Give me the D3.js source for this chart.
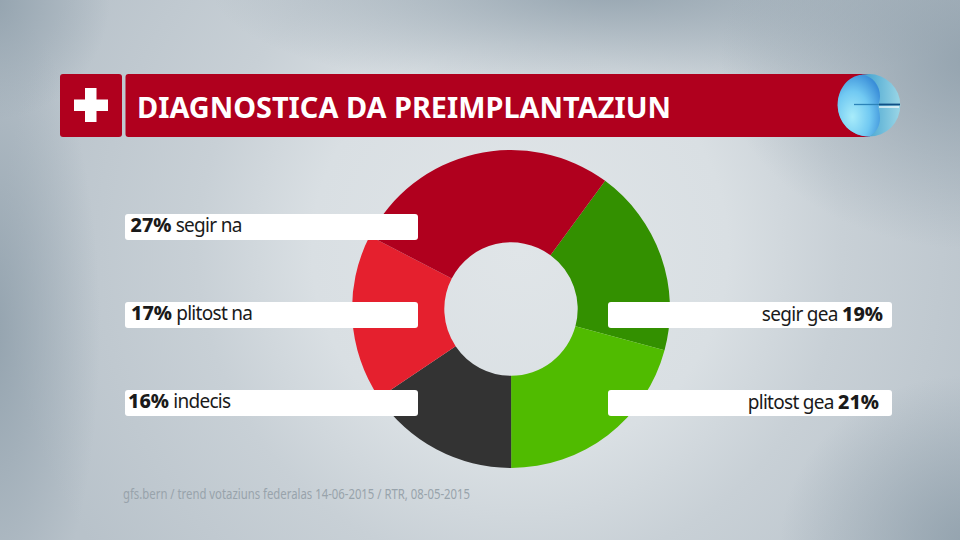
<!DOCTYPE html>
<html>
  <head>
    <meta charset="utf-8">
    <script src="https://cdnjs.cloudflare.com/ajax/libs/d3/7.8.5/d3.min.js"></script>
    <style>
      html, body { margin: 0; padding: 0; width: 960px; height: 540px; overflow: hidden; }
      text { font-family: "Noto Sans", "Open Sans", sans-serif; }
    </style>
  </head>
  <body>
    <svg id="chart" width="960" height="540"></svg>
    <script>
      // clockwise from the top right slice
      const categories = ["segir gea", "plitost gea", "indecis", "plitost na", "segir na"];
      const percents = [19, 21, 16, 17, 27];
      // slice sizes as measured on the picture, they differ a bit from the printed numbers
      const shares = [19.1, 20.8, 15.6, 17, 27.5];
      const colors = ["#339000", "#50bb00", "#333333", "#e5202e", "#b0001e"];
      const title = "DIAGNOSTICA DA PREIMPLANTAZIUN";
      const source = "gfs.bern / trend votaziuns federalas 14-06-2015 / RTR, 08-05-2015";

      // label boxes, order matches categories
      const boxX = [608, 608, 125, 125, 125];
      const boxY = [302, 390, 390, 302, 214];
      const textX = [883, 879, 128, 131, 130.5];
      const boxW = [284, 284, 293, 293, 293];

      const svg = d3.select("#chart");
      const defs = svg.append("defs");

      const bg = defs.append("radialGradient").attr("id", "bg")
        .attr("gradientUnits", "userSpaceOnUse")
        .attr("cx", 520).attr("cy", 250).attr("r", 520);
      bg.append("stop").attr("offset", "0%").attr("stop-color", "#e0e5e8");
      bg.append("stop").attr("offset", "40%").attr("stop-color", "#d9dfe3");
      bg.append("stop").attr("offset", "62%").attr("stop-color", "#c8d0d6");
      bg.append("stop").attr("offset", "100%").attr("stop-color", "#b8c2ca");

      svg.append("rect").attr("width", 960).attr("height", 540).attr("fill", "url(#bg)");

      // darker patches of the backdrop
      const blob = defs.append("radialGradient").attr("id", "blob");
      blob.append("stop").attr("offset", "0%").attr("stop-color", "#8f9fab").attr("stop-opacity", 0.9);
      blob.append("stop").attr("offset", "100%").attr("stop-color", "#8f9fab").attr("stop-opacity", 0);
      const blobs = [
        [610, -12, 400, 110],
        [-10, 330, 110, 330],
        [-10, 0, 120, 120],
        [970, 545, 190, 170],
        [980, 60, 260, 190]
      ];
      svg.append("g").selectAll("ellipse").data(blobs).enter().append("ellipse")
        .attr("cx", d => d[0]).attr("cy", d => d[1])
        .attr("rx", d => d[2]).attr("ry", d => d[3])
        .attr("fill", "url(#blob)");

      // header
      const red = "#b0001e";
      svg.append("rect").attr("x", 60).attr("y", 74).attr("width", 62).attr("height", 63).attr("rx", 3).attr("fill", red);
      svg.append("rect").attr("x", 125.5).attr("y", 74).attr("width", 745).attr("height", 63).attr("rx", 3).attr("fill", red);
      svg.append("rect").attr("x", 74).attr("y", 99.5).attr("width", 34).attr("height", 11.5).attr("fill", "#fff");
      svg.append("rect").attr("x", 85).attr("y", 88).attr("width", 11.5).attr("height", 34).attr("fill", "#fff");
      svg.append("text").attr("x", 137).attr("y", 117.5)
        .attr("font-size", 28.5).attr("font-weight", 700).attr("fill", "#fff")
        .attr("textLength", 534).attr("lengthAdjust", "spacingAndGlyphs")
        .text(title);

      // egg cell icon
      const eggOuter = defs.append("linearGradient").attr("id", "eggOuter")
        .attr("x1", 0).attr("x2", 1).attr("y1", 0).attr("y2", 0);
      eggOuter.append("stop").attr("offset", "50%").attr("stop-color", "#4fa9d2");
      eggOuter.append("stop").attr("offset", "100%").attr("stop-color", "#9ad6e6");
      const eggInner = defs.append("radialGradient").attr("id", "eggInner")
        .attr("cx", 0.35).attr("cy", 0.68).attr("r", 0.75);
      eggInner.append("stop").attr("offset", "0%").attr("stop-color", "#a8ecfa");
      eggInner.append("stop").attr("offset", "55%").attr("stop-color", "#71c9f2");
      eggInner.append("stop").attr("offset", "100%").attr("stop-color", "#3a8ed8");

      svg.append("circle").attr("cx", 869).attr("cy", 105.3).attr("r", 31.3).attr("fill", "url(#eggOuter)");
      svg.append("path")
        .attr("d", "M862,74.8 C873,76 880,86 880,96 C880,102 878,104 878,106 C878,108 880,112 880,118 C880,126 876,133 869,136.5 C851,136.5 837.7,122 837.7,105 C837.7,89 848,76 862,74.8 Z")
        .attr("fill", "url(#eggInner)");
      svg.append("line").attr("x1", 854).attr("x2", 879).attr("y1", 104.5).attr("y2", 104.5)
        .attr("stroke", "#2c83b8").attr("stroke-width", 1.3);
      svg.append("line").attr("x1", 879).attr("x2", 900).attr("y1", 104.5).attr("y2", 104.5)
        .attr("stroke", "#0f4f85").attr("stroke-width", 1.8);
      svg.append("line").attr("x1", 879).attr("x2", 899).attr("y1", 107).attr("y2", 107)
        .attr("stroke", "#ffffff").attr("stroke-width", 1.2);

      // donut
      const pie = d3.pie().sort(null).value(d => d)
        .startAngle(36.3 * Math.PI / 180)
        .endAngle(396.3 * Math.PI / 180);
      const arc = d3.arc().innerRadius(66.7).outerRadius(159);
      const color = d3.scaleOrdinal().domain(categories).range(colors);

      svg.append("g").attr("transform", "translate(511,309)")
        .selectAll("path").data(pie(shares)).enter().append("path")
        .attr("d", arc)
        .attr("fill", (d, i) => color(categories[i]));

      // labels
      const labels = svg.append("g").selectAll("g").data(categories).enter().append("g");
      labels.append("rect")
        .attr("x", (d, i) => boxX[i]).attr("y", (d, i) => boxY[i])
        .attr("width", (d, i) => boxW[i]).attr("height", 26)
        .attr("rx", 3).attr("fill", "#fff");
      const labelText = labels.append("text")
        .attr("x", (d, i) => textX[i]).attr("y", (d, i) => boxY[i] + (boxX[i] > 500 ? 19 : 18))
        .attr("font-size", 19).attr("fill", "#1a1a1a")
        .attr("text-anchor", (d, i) => boxX[i] > 500 ? "end" : "start");
      labelText.each(function(d, i) {
        const t = d3.select(this);
        const pct = percents[i] + "%";
        const addPct = () => t.append("tspan").attr("font-weight", 800).attr("font-size", 19.7).text(pct);
        if (boxX[i] > 500) {
          t.append("tspan").attr("letter-spacing", -0.7).text(d + " ");
          addPct();
        } else {
          addPct();
          t.append("tspan").attr("letter-spacing", -0.7).text(" " + d);
        }
      });

      svg.append("text").attr("x", 123).attr("y", 499)
        .attr("font-size", 13.5).attr("fill", "#98a3ab")
        .attr("textLength", 347).attr("lengthAdjust", "spacingAndGlyphs")
        .text(source);
    </script>
  </body>
</html>
